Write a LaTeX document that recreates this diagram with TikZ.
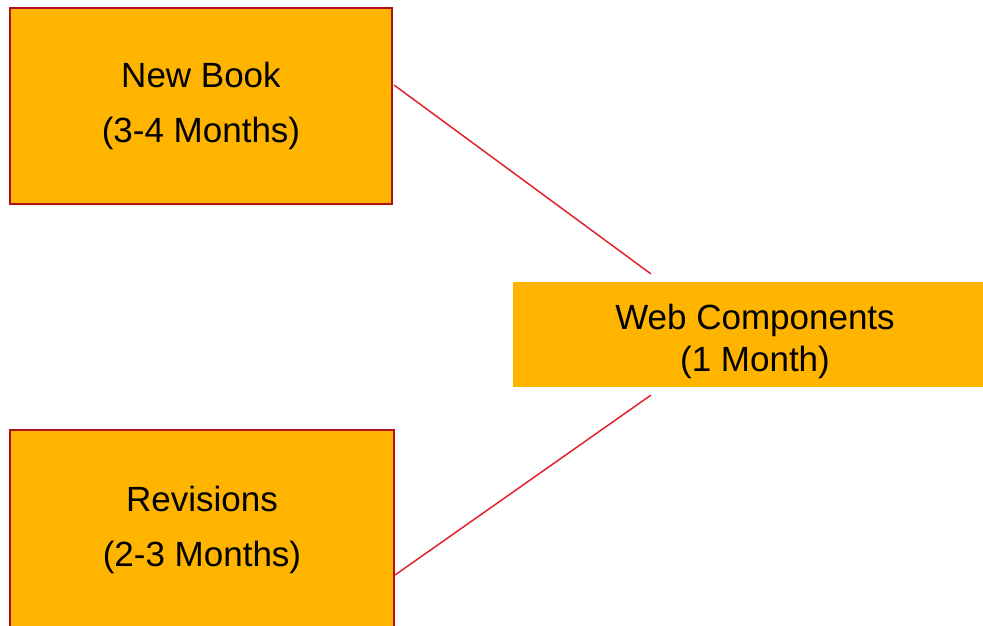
\documentclass[tikz,border=0pt]{standalone}
\usepackage{fontspec}
\setmainfont{Liberation Sans}
\usetikzlibrary{calc}
\definecolor{boxfill}{HTML}{FFB400}
\definecolor{boxedge}{HTML}{B0121B}
\definecolor{linkred}{HTML}{E2222D}
\begin{document}
\begin{tikzpicture}[x=1pt,y=-1pt,
  phase/.style={fill=boxfill, draw=boxedge, line width=2pt, align=center,
    inner sep=0pt, font=\fontsize{35}{55}\selectfont},
  webphase/.style={fill=boxfill, inner sep=0pt},
  webtext/.style={align=center, inner sep=0pt,
    font=\fontsize{35}{42}\selectfont},
  link/.style={draw=linkred, line width=1.5pt}]
\useasboundingbox (0,0) rectangle (983,625);
\clip (0,0) rectangle (983,625);

% Phase boxes
\node[phase, minimum width=382, minimum height=196] (book) at (201,106)
  {New Book\\(3-4 Months)};
\node[phase, minimum width=384, minimum height=200] (rev) at (202,530)
  {Revisions\\(2-3 Months)};
\node[webphase, minimum width=484, minimum height=105] (web) at (755,334.5) {};
\node[webtext] (webtxt) at ($(web.center)+(0,6.5)$) {Web Components\\(1 Month)};

% Links into the web phase
\draw[link] ($(book.east)+(1,-21)$) -- ($(web.north west)+(138,-8)$);
\draw[link] ($(rev.east)+(0,45)$) -- ($(web.south west)+(138,8)$);
\end{tikzpicture}
\end{document}
